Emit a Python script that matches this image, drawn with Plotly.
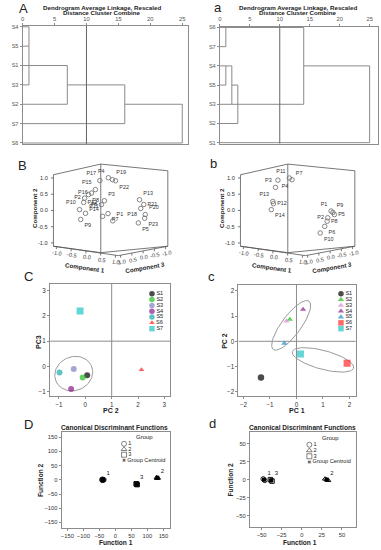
import math
import plotly.graph_objects as go

W, H = 381, 550
FONT = "Liberation Sans, Arial, sans-serif"

# ------------------------------------------------------------------ data
# Dendrogram A (rows top->bottom), leaf line lengths, verticals (dist,row0,row1), connectors (row,d0,d1)
dendA_rows = ["S4", "S5", "S1", "S3", "S2", "S7", "S6"]
dendA_leaf = [1, 1, 7, 1, 7, 16, 25]
dendA_vert = [(1, 0, 3), (7, 2, 4), (16, 3, 5), (25, 4, 6)]
dendA_conn = [(3, 7, 16), (4, 16, 25)]
# Dendrogram a
denda_rows = ["S6", "S7", "S4", "S5", "S3", "S2", "S1"]
denda_leaf = [14, 1, 2, 1, 14, 3, 25]
denda_vert = [(1, 0, 1), (1, 2, 3), (2, 2, 4), (3, 3, 5), (14, 0, 4), (25, 2, 6)]
denda_conn = [(3, 2, 3), (2, 14, 25)]
dend_ticks = [0, 5, 10, 15, 20, 25]
dend_ref = 10

# 3D component loadings B
B_names = ["P%d" % i for i in range(1, 24)]
B_c1 = [0.09, -0.85, -0.19, -0.06, 0.57, -0.29, -0.07, -0.72, -0.98, -1.02, -0.82, -0.88,
        0.61, -0.25, -0.49, -0.62, -0.34, 0.65, 0.08, 0.80, 0.75, 0.18, 0.78]
B_c2 = [-0.25, 0.33, 0.31, 0.98, -0.34, 0.19, -0.05, 0.44, -0.27, 0.00, -0.09, 0.21,
        0.33, -0.14, 0.60, 0.49, 0.87, 0.08, 0.94, -0.09, 0.20, 0.92, -0.20]
B_c3 = [0.0, 0.0, 0.0, 0.0, -0.5, 0.0, 0.0, 0.0, 0.0, 0.0, 0.0, 0.0,
        -0.5, 0.0, 0.0, 0.0, 0.0, -0.5, 0.0, -0.5, -0.5, 0.0, -0.5]
B_lab = ["top right", "middle left", "top right", "top left", "bottom right", "middle left",
         "bottom right", "bottom right", "bottom right", "top left", "top right", "middle right",
         "top right", "top left", "top left", "middle left", "top left", "bottom left",
         "top right", "top right", "middle right", "bottom right", "bottom right"]
# 3D component loadings b
b_names = ["P%d" % i for i in range(1, 15)]
b_c1 = [0.76, 0.65, -0.72, -0.64, 0.87, 0.55, -0.17, 0.63, 0.82, 0.40, -0.26, -0.79, -0.81, -0.86]
b_c2 = [0.01, -0.19, 0.64, 0.85, -0.09, -0.44, 0.91, -0.29, -0.03, -0.63, 0.95, 0.18, 0.24, 0.01]
b_c3 = [-0.5, -0.5, 0.0, 0.0, -0.5, -0.5, 0.0, -0.5, -0.5, -0.5, 0.0, 0.0, 0.0, 0.0]
b_lab = ["top left", "middle left", "top left", "bottom right", "middle right", "bottom right",
         "top right", "middle right", "top right", "bottom right", "top left", "middle right",
         "top left", "bottom right"]
comp_ticks = [-1.0, -0.5, 0.0, 0.5, 1.0]

# PCA score plot C
S_names = ["S1", "S2", "S3", "S4", "S5", "S6", "S7"]
C_pc2 = [0.07, -0.10, -0.44, -0.54, -0.98, 2.13, -0.20]
C_pc3 = [-0.34, -0.43, -0.10, -0.89, -0.24, -0.13, 2.19]
C_colors = ["#000000", "#1fbf1f", "#8080c0", "#8b1a8b", "#1aaaaa", "#ff2020", "#22c4c4"]
C_symbols = ["circle", "circle", "circle", "circle", "circle", "triangle-up", "square"]
C_sizes = [6, 6, 6, 6, 6, 5, 7]
C_ticks = [-1, 0, 1, 2, 3]
C_ellipse = dict(cx=-0.44, cy=-0.28, rx=0.74, ry=0.66, ang=30)
# PCA score plot c
c_pc1 = [-1.34, -0.25, -0.38, 0.25, -0.46, 1.91, 0.15]
c_pc2 = [-1.43, 0.87, 0.80, 1.26, -0.08, -0.87, -0.50]
c_colors = ["#000000", "#1fbf1f", "#d58ad5", "#8b1a8b", "#1a8fd0", "#ff2a2a", "#22c4c4"]
c_symbols = ["circle", "triangle-up", "triangle-up", "triangle-up", "triangle-up", "square", "square"]
c_sizes = [6.5, 5.5, 5.5, 5.5, 5.5, 7, 7]
c_ticks = [-2, -1, 0, 1, 2]
c_ellipses = [dict(cx=-0.2, cy=0.63, rx=1.17, ry=0.37, ang=55),
              dict(cx=1.0, cy=-0.735, rx=1.2, ry=0.37, ang=-15.8)]

# Canonical discriminant D
D_groups = ["1", "2", "3"]
D_case_f1 = [[-42, -38, -40, -36, -41], [129, 133, 130], [65, 68, 66]]
D_case_f2 = [[1, -1, 2, 0, -2], [8, 6, 5], [-14, -17, -15]]
D_cent_f1 = [-39, 131, 66]
D_cent_f2 = [0, 7, -16]
D_ticks = [-150, -100, -50, 0, 50, 100, 150]
# Canonical discriminant d
d_case_f1 = [[-48, -46], [29, 31, 33], [-39, -37]]
d_case_f2 = [[1, -1], [1, 0, -1], [0, -2]]
d_cent_f1 = [-47, 31, -38]
d_cent_f2 = [0, 0, -1]
d_ticks = [-50, -25, 0, 25, 50]
group_symbols = ["circle-open", "triangle-up-open", "square-open"]

# ------------------------------------------------------------------ helpers
def dx(a, b):
    return [a / W, b / W]


def dy(top, bottom):
    return [1 - bottom / H, 1 - top / H]


def px(p):
    return p / W


def py(p):
    return 1 - p / H


fig = go.Figure()
layout = dict(width=W, height=H, margin=dict(l=0, r=0, t=0, b=0), paper_bgcolor="white",
              plot_bgcolor="rgba(0,0,0,0)", showlegend=False, font=dict(family=FONT, color="#222"))
annotations = []


def axname(n):
    return ("xaxis", "yaxis") if n == 1 else ("xaxis%d" % n, "yaxis%d" % n)


def ref(n):
    return ("x", "y") if n == 1 else ("x%d" % n, "y%d" % n)


box_style = dict(showline=True, mirror=True, linecolor="#8c8c8c", linewidth=1, ticks="outside",
                 ticklen=2, tickcolor="#8c8c8c", tickfont=dict(size=6.3, color="#333", family=FONT),
                 tickangle=0, showgrid=False, zeroline=False, fixedrange=True)
hidden = dict(visible=False, showgrid=False, zeroline=False, fixedrange=True)


def set_axes(n, xdom, ydom, xr, yr, xs=None, ys=None):
    xa, ya = axname(n)
    xr_, yr_ = ref(n)
    X = dict(domain=xdom, range=xr, anchor=yr_)
    Y = dict(domain=ydom, range=yr, anchor=xr_)
    X.update(xs if xs is not None else hidden)
    Y.update(ys if ys is not None else hidden)
    layout[xa] = X
    layout[ya] = Y


def text_ann(x, y, s, size=7, bold=False, angle=0, xanchor="center", xref="paper", yref="paper", color="#222"):
    if bold:
        s = "<b>%s</b>" % s
    annotations.append(dict(x=x, y=y, xref=xref, yref=yref, text=s, showarrow=False, textangle=angle,
                            xanchor=xanchor, yanchor="middle", font=dict(size=size, family=FONT, color=color)))


# ------------------------------------------------------------------ dendrograms
def dendrogram(n, rows, leaf, vert, conn, xdom, ydom, xmax):
    xs = dict(box_style, side="top", tickvals=dend_ticks, tickfont=dict(size=5.8, color="#555", family=FONT))
    ys = dict(box_style, tickvals=list(range(len(rows))), ticktext=rows,
              tickfont=dict(size=5.6, color="#555", family=FONT))
    set_axes(n, xdom, ydom, [0, xmax], [len(rows) - 0.95, -0.05], xs, ys)
    X, Y = [], []
    for r, L in enumerate(leaf):
        X += [0, L, None]; Y += [r, r, None]
    for d, r0, r1 in vert:
        X += [d, d, None]; Y += [r0, r1, None]
    for r, d0, d1 in conn:
        X += [d0, d1, None]; Y += [r, r, None]
    xr_, yr_ = ref(n)
    fig.add_trace(go.Scatter(x=X, y=Y, mode="lines", line=dict(color="#8a8a8a", width=1),
                             xaxis=xr_, yaxis=yr_, hoverinfo="skip", cliponaxis=False))
    fig.add_trace(go.Scatter(x=[dend_ref, dend_ref], y=[-0.05, len(rows) - 0.95], mode="lines",
                             line=dict(color="#666", width=1), xaxis=xr_, yaxis=yr_, hoverinfo="skip"))


dendrogram(1, dendA_rows, dendA_leaf, dendA_vert, dendA_conn, dx(20.7, 187), dy(24, 143), 25.9)
dendrogram(2, denda_rows, denda_leaf, denda_vert, denda_conn, dx(219, 378), dy(24.7, 142.7), 26.4)
for cx in (101, 298):
    text_ann(px(cx), py(5.2), "Dendrogram Average Linkage, Rescaled", size=6.2, bold=True)
    text_ann(px(cx), py(11), "Distance Cluster Combine", size=6.2, bold=True)

# ------------------------------------------------------------------ 3D loading plots (oblique box projection)
BOX_LIM = 1.1
PROJ_BOTTOM = {"Bk": (99.3, 252.5), "R": (166.7, 246.0), "L": (51.7, 246.0), "F": (117.0, 255.5)}
PROJ_TOP = {"Bk": (99.3, 163.3), "R": (166.7, 170.0), "L": (51.7, 174.0), "F": (117.0, 185.0)}


def proj(c1, c2, c3, off=0.0):
    s = (c1 + BOX_LIM) / (2 * BOX_LIM)
    t = (c3 + BOX_LIM) / (2 * BOX_LIM)
    w = (c2 + BOX_LIM) / (2 * BOX_LIM)

    def bil(C, k):
        return (C["Bk"][k] * (1 - s) * (1 - t) + C["R"][k] * s * (1 - t)
                + C["L"][k] * (1 - s) * t + C["F"][k] * s * t)

    u = bil(PROJ_BOTTOM, 0) * (1 - w) + bil(PROJ_TOP, 0) * w + off
    v = bil(PROJ_BOTTOM, 1) * (1 - w) + bil(PROJ_TOP, 1) * w
    return u, v


def panel3d(n, names, c1, c2, c3, labpos, off, xlo, xhi):
    set_axes(n, dx(xlo, xhi), dy(150, 280), [xlo, xhi], [280, 150])
    xr_, yr_ = ref(n)
    lim = BOX_LIM
    Lc, Bkc, Rc, Fc = (-lim, lim), (-lim, -lim), (lim, -lim), (lim, lim)
    edges = []
    for hgt in (-lim, lim):
        edges.append(((Lc, hgt), (Bkc, hgt)))
        edges.append(((Bkc, hgt), (Rc, hgt)))
    for cc in (Lc, Bkc, Rc):
        edges.append(((cc, -lim), (cc, lim)))
    edges.append(((Lc, -lim), (Fc, -lim)))
    edges.append(((Fc, -lim), (Rc, -lim)))
    X, Y = [], []
    for (a, ha), (b, hb) in edges:
        p0 = proj(a[0], ha, a[1], off)
        p1 = proj(b[0], hb, b[1], off)
        X += [p0[0], p1[0], None]; Y += [p0[1], p1[1], None]
    for tv in comp_ticks:
        p = proj(-lim, tv, lim, off)
        X += [p[0], p[0] - 2.5, None]; Y += [p[1], p[1], None]
        text_ann(p[0] - 3, p[1], "%.1f" % tv, size=5.6, xanchor="right", xref=xr_, yref=yr_, color="#333")
        p = proj(tv, -lim, lim, off)
        X += [p[0], p[0], None]; Y += [p[1], p[1] + 2.5, None]
        text_ann(p[0] + 1, p[1] + 6.5, "%.1f" % tv, size=5.6, angle=8, xref=xr_, yref=yr_, color="#333")
        p = proj(lim, -lim, tv, off)
        X += [p[0], p[0], None]; Y += [p[1], p[1] + 2.5, None]
        text_ann(p[0] + 1, p[1] + 6.5, "%.1f" % tv, size=5.6, angle=-10, xref=xr_, yref=yr_, color="#333")
    fig.add_trace(go.Scatter(x=X, y=Y, mode="lines", line=dict(color="#555", width=0.8),
                             xaxis=xr_, yaxis=yr_, hoverinfo="skip", cliponaxis=False))
    P = [proj(a, b, c, off) for a, b, c in zip(c1, c2, c3)]
    fig.add_trace(go.Scatter(x=[p[0] for p in P], y=[p[1] for p in P], mode="markers+text",
                             text=names, textposition=labpos,
                             textfont=dict(size=5.4, color="#333", family=FONT),
                             marker=dict(symbol="circle-open", size=4.5, color="#777", line=dict(width=0.9)),
                             xaxis=xr_, yaxis=yr_, cliponaxis=False))
    text_ann(32.7 + off, 208, "Component 2", size=6.2, bold=True, angle=-90, xref=xr_, yref=yr_)
    text_ann(83.3 + off, 267, "Component 1", size=6.2, bold=True, angle=8, xref=xr_, yref=yr_)
    text_ann(143.3 + off, 267, "Component 3", size=6.2, bold=True, angle=-10, xref=xr_, yref=yr_)


panel3d(3, B_names, B_c1, B_c2, B_c3, B_lab, 0.0, 0, 190)
panel3d(4, b_names, b_c1, b_c2, b_c3, b_lab, 188.0, 190, 381)


# ------------------------------------------------------------------ PCA score plots
def ellipse_xy(e, n=80):
    a = math.radians(e["ang"])
    xs, ys = [], []
    for i in range(n + 1):
        t = 2 * math.pi * i / n
        ex, ey = e["rx"] * math.cos(t), e["ry"] * math.sin(t)
        xs.append(e["cx"] + ex * math.cos(a) - ey * math.sin(a))
        ys.append(e["cy"] + ex * math.sin(a) + ey * math.cos(a))
    return xs, ys


def score_panel(n, xv, yv, colors, symbols, sizes, ticks, xdom, ydom, xr, yr, cross, ells):
    xs = dict(box_style, tickvals=ticks)
    ys = dict(box_style, tickvals=ticks)
    set_axes(n, xdom, ydom, xr, yr, xs, ys)
    xr_, yr_ = ref(n)
    fig.add_trace(go.Scatter(x=[cross, cross, None, xr[0], xr[1]], y=[yr[0], yr[1], None, cross, cross],
                             mode="lines", line=dict(color="#8c8c8c", width=1), xaxis=xr_, yaxis=yr_,
                             hoverinfo="skip"))
    for e in ells:
        ex, ey = ellipse_xy(e)
        fig.add_trace(go.Scatter(x=ex, y=ey, mode="lines", line=dict(color="#9a9a9a", width=1),
                                 xaxis=xr_, yaxis=yr_, hoverinfo="skip"))
    fig.add_trace(go.Scatter(x=xv, y=yv, mode="markers",
                             marker=dict(color=colors, symbol=symbols, size=sizes, line=dict(width=0)),
                             xaxis=xr_, yaxis=yr_))


score_panel(5, C_pc2, C_pc3, C_colors, C_symbols, C_sizes, C_ticks, dx(48.3, 169.3), dy(284, 397.3),
            [-1.34, 3.23], [-1.18, 3.26], 1, [C_ellipse])
score_panel(6, c_pc1, c_pc2, c_colors, c_symbols, c_sizes, c_ticks, dx(237.7, 355.7), dy(285, 397.3),
            [-2.19, 2.24], [-2.18, 2.23], 0, c_ellipses)
text_ann(px(110), py(411.5), "PC 2", size=7, bold=True)
text_ann(px(36.7), py(343), "PC3", size=7, bold=True, angle=-90)
text_ann(px(296.7), py(411.5), "PC 1", size=7, bold=True)
text_ann(px(223.5), py(341), "PC 2", size=7, bold=True, angle=-90)


def legend_panel(n, names, colors, symbols, sizes, xlo, xhi, ytop, ybot, mx):
    set_axes(n, dx(xlo, xhi), dy(ytop, ybot), [0, 1], [len(names) - 0.5, -0.5])
    xr_, yr_ = ref(n)
    fig.add_trace(go.Scatter(x=[mx] * len(names), y=list(range(len(names))), mode="markers+text",
                             text=names, textposition="middle right",
                             textfont=dict(size=5.6, color="#222", family=FONT),
                             marker=dict(color=colors, symbol=symbols, size=[min(s, 5.5) for s in sizes],
                                         line=dict(width=0)),
                             xaxis=xr_, yaxis=yr_, cliponaxis=False))


legend_panel(9, S_names, C_colors, C_symbols, C_sizes, 147, 172, 291, 332, 0.15)
legend_panel(10, S_names, c_colors, c_symbols, c_sizes, 336.5, 361.5, 291, 332, 0.17)


# ------------------------------------------------------------------ canonical discriminant plots
def cda_panel(n, cf1, cf2, mf1, mf2, ticks, xdom, ydom, xr, yr):
    xs = dict(box_style, tickvals=ticks, tickfont=dict(size=5.8, color="#333", family=FONT))
    ys = dict(box_style, tickvals=ticks, tickfont=dict(size=5.8, color="#333", family=FONT))
    set_axes(n, xdom, ydom, xr, yr, xs, ys)
    xr_, yr_ = ref(n)
    for g in range(len(D_groups)):
        fig.add_trace(go.Scatter(x=cf1[g], y=cf2[g], mode="markers",
                                 marker=dict(symbol=group_symbols[g], size=4.5, color="#111", line=dict(width=1)),
                                 xaxis=xr_, yaxis=yr_))
    fig.add_trace(go.Scatter(x=mf1, y=mf2, mode="markers+text", text=D_groups, textposition="top right",
                             textfont=dict(size=6, color="#222", family=FONT),
                             marker=dict(symbol="square", size=4, color="#000"),
                             xaxis=xr_, yaxis=yr_, cliponaxis=False))


cda_panel(7, D_case_f1, D_case_f2, D_cent_f1, D_cent_f2, D_ticks, dx(60, 169), dy(432.7, 530),
          [-167.7, 170.8], [-170, 169.6])
cda_panel(8, d_case_f1, d_case_f2, d_cent_f1, d_cent_f2, d_ticks, dx(249.3, 355.7), dy(433.3, 529),
          [-64.4, 67.3], [-66.2, 66.2])

leg_names = D_groups + ["Group Centroid"]
leg_symbols = group_symbols + ["square"]
for n, (xlo, xhi, yt, yb, mx) in zip((11, 12), ((119, 175, 442.3, 464.3, 0.066), (305, 360, 443.1, 466.3, 0.073))):
    set_axes(n, dx(xlo, xhi), dy(yt, yb), [0, 1], [len(leg_names) - 0.5, -0.5])
    xr_, yr_ = ref(n)
    fig.add_trace(go.Scatter(x=[mx] * len(leg_names), y=list(range(len(leg_names))), mode="markers+text",
                             text=leg_names, textposition="middle right",
                             textfont=dict(size=5.6, color="#222", family=FONT),
                             marker=dict(symbol=leg_symbols, size=[5, 5, 5, 3.5], color="#222",
                                         line=dict(width=0.8)),
                             xaxis=xr_, yaxis=yr_, cliponaxis=False))

text_ann(px(113.3), py(428.5), "Canonical Discriminant Functions", size=6.6, bold=True)
text_ann(px(301.7), py(429), "Canonical Discriminant Functions", size=6.6, bold=True)
text_ann(px(143.3), py(438.5), "Group", size=6)
text_ann(px(330), py(439.5), "Group", size=6)
text_ann(px(114.3), py(544), "Function 1", size=6.6, bold=True)
text_ann(px(39.3), py(481.5), "Function 2", size=6.6, bold=True, angle=-90)
text_ann(px(300), py(544), "Function 1", size=6.6, bold=True)
text_ann(px(229.3), py(481), "Function 2", size=6.6, bold=True, angle=-90)

# ------------------------------------------------------------------ panel letters
for letter, x, y in [("A", 21.5, 7), ("a", 217.5, 6), ("B", 20.5, 165), ("b", 213, 163),
                     ("C", 27, 277), ("c", 211, 276.5), ("D", 26.5, 426), ("d", 211.5, 424.5)]:
    text_ann(px(x), py(y), letter, size=13)

layout["annotations"] = annotations
fig.update_layout(**layout)
fig.write_html("out.html", config={"displayModeBar": False, "staticPlot": True},
               post_script="document.body.style.margin='0';document.body.style.overflow='hidden';")
